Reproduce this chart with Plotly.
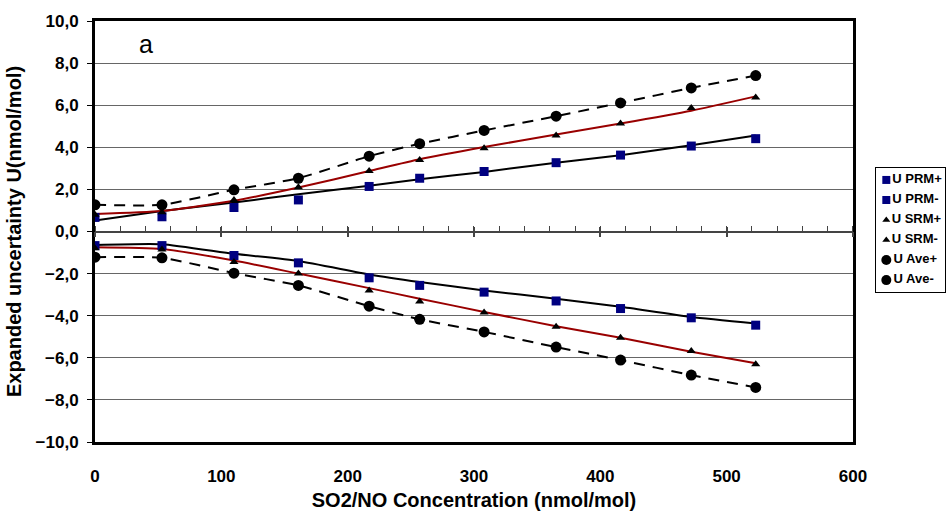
import plotly.graph_objects as go

# SO2/NO concentration levels (nmol/mol)
conc = [0, 53, 110, 161, 217, 257, 308, 365, 416, 472, 523]

# Expanded uncertainty bounds (nmol/mol)
prm_pos = [0.67, 0.70, 1.14, 1.50, 2.14, 2.53, 2.85, 3.27, 3.63, 4.06, 4.41]
prm_neg = [-0.67, -0.67, -1.14, -1.49, -2.20, -2.56, -2.88, -3.30, -3.66, -4.10, -4.45]
srm_pos = [0.80, 0.92, 1.50, 2.10, 2.87, 3.40, 3.95, 4.56, 5.13, 5.87, 6.37]
srm_neg = [-0.80, -0.85, -1.45, -2.00, -2.80, -3.32, -3.85, -4.53, -5.05, -5.68, -6.31]
ave_pos = [1.27, 1.27, 1.98, 2.53, 3.58, 4.17, 4.80, 5.48, 6.11, 6.82, 7.41]
ave_neg = [-1.22, -1.25, -1.98, -2.56, -3.55, -4.17, -4.77, -5.49, -6.11, -6.82, -7.41]

# Smoothed curves drawn along the PRM and SRM bounds
prm_curve_pos = [0.52, 0.97, 1.38, 1.77, 2.17, 2.48, 2.83, 3.27, 3.62, 4.10, 4.56]
prm_curve_neg = [-0.64, -0.60, -1.06, -1.40, -2.04, -2.40, -2.80, -3.19, -3.58, -4.06, -4.37]
srm_curve_pos = [0.83, 0.97, 1.46, 2.09, 2.87, 3.43, 4.01, 4.61, 5.13, 5.74, 6.42]
srm_curve_neg = [-0.75, -0.83, -1.38, -2.00, -2.69, -3.19, -3.82, -4.50, -5.05, -5.71, -6.26]

x_ticks = [0, 100, 200, 300, 400, 500, 600]
y_ticks = [-10, -8, -6, -4, -2, 0, 2, 4, 6, 8, 10]

series_names = ["U PRM+", "U PRM-", "U SRM+", "U SRM-", "U Ave+", "U Ave-"]
series_values = [prm_pos, prm_neg, srm_pos, srm_neg, ave_pos, ave_neg]

NAVY = "#000080"
DARKRED = "#990000"
FONT = "Liberation Sans, Arial, sans-serif"
SMOOTH = 0.55

marker_styles = [
    dict(symbol="square", size=9, color=NAVY),
    dict(symbol="square", size=9, color=NAVY),
    dict(symbol="triangle-up", size=8, color="black"),
    dict(symbol="triangle-up", size=8, color="black"),
    dict(symbol="circle", size=11, color="black"),
    dict(symbol="circle", size=11, color="black"),
]
marker_axes = ["x2", "x2", "x2", "x2", "x3", "x3"]

fig = go.Figure()

# curves
for ys in (prm_curve_pos, prm_curve_neg):
    fig.add_trace(go.Scatter(x=conc, y=ys, mode="lines",
                             line=dict(color="black", width=2, shape="spline", smoothing=SMOOTH),
                             showlegend=False, hoverinfo="skip"))
for ys in (srm_curve_pos, srm_curve_neg):
    fig.add_trace(go.Scatter(x=conc, y=ys, mode="lines",
                             line=dict(color=DARKRED, width=2, shape="spline", smoothing=SMOOTH),
                             showlegend=False, hoverinfo="skip"))
for ys in (ave_pos, ave_neg):
    fig.add_trace(go.Scatter(x=conc, y=ys, mode="lines",
                             line=dict(color="black", width=2, dash="11px,8px", shape="spline", smoothing=SMOOTH),
                             showlegend=False, hoverinfo="skip"))

# measured points
for name, ys, mk, xa in zip(series_names, series_values, marker_styles, marker_axes):
    fig.add_trace(go.Scatter(x=conc, y=ys, mode="markers", name=name, marker=mk,
                             xaxis=xa, yaxis="y", showlegend=False))

# key panel
key_rows = list(range(len(series_names)))
for name, row, mk in zip(series_names, key_rows, marker_styles):
    kmk = dict(mk)
    kmk["size"] = {"square": 8, "triangle-up": 7, "circle": 10}[mk["symbol"]]
    fig.add_trace(go.Scatter(x=[0.15], y=[row], mode="markers+text", text=[name],
                             textposition="middle right",
                             textfont=dict(family=FONT, size=13, color="black", weight="bold"),
                             marker=kmk, xaxis="x4", yaxis="y4", showlegend=False, hoverinfo="skip"))

main_dom = [0, 0.8907]
axis_common = dict(range=[0, 600], domain=main_dom, showgrid=False, zeroline=False)

fig.update_layout(
    width=948, height=513,
    margin=dict(l=95, r=2, t=21, b=71),
    paper_bgcolor="white", plot_bgcolor="white",
    separators=",.",
    font=dict(family=FONT, color="black"),
    xaxis=dict(
        **axis_common,
        tickvals=x_ticks, ticks="", showline=True, linecolor="black", linewidth=3, mirror=True,
        tickfont=dict(size=17, weight="bold"), ticklabelstandoff=17,
        title=dict(text="SO2/NO Concentration (nmol/mol)", font=dict(size=20, weight="bold"), standoff=8),
        automargin=False,
    ),
    xaxis2=dict(
        **axis_common, overlaying="x", anchor="free", position=0.5,
        showline=True, linecolor="#444", linewidth=1.5, showticklabels=False,
        ticks="outside", ticklen=5, tickcolor="#444", tickwidth=1.5, dtick=100, tick0=0,
        minor=dict(ticks="inside", ticklen=5, dtick=20, tick0=0, tickcolor="#444", tickwidth=1.2),
    ),
    xaxis3=dict(
        **axis_common, overlaying="x", anchor="free", position=0.5,
        showline=False, showticklabels=False,
        ticks="inside", ticklen=5, tickcolor="#444", tickwidth=1.5, dtick=100, tick0=0,
    ),
    yaxis=dict(
        range=[-10, 10], tickvals=y_ticks, tickformat=".1f",
        showgrid=True, gridcolor="#666666", gridwidth=1, zeroline=False,
        showline=True, linecolor="black", linewidth=3, mirror=True,
        ticks="outside", ticklen=5, tickcolor="black",
        tickfont=dict(size=17, weight="bold"), ticklabelstandoff=5,
        title=dict(text="Expanded uncertainty U(nmol/mol)", font=dict(size=20, weight="bold"), standoff=9),
        automargin=True,
    ),
    xaxis4=dict(domain=[0.9177, 0.9988], range=[0, 1], anchor="y4",
                showgrid=False, zeroline=False, showticklabels=False, ticks="",
                showline=True, mirror=True, linecolor="black", linewidth=1),
    yaxis4=dict(domain=[0.356, 0.651], range=[5.6, -0.6], anchor="x4",
                showgrid=False, zeroline=False, showticklabels=False, ticks="",
                showline=True, mirror=True, linecolor="black", linewidth=1),
    annotations=[dict(text="a", x=40, y=8.9, xref="x", yref="y", showarrow=False,
                      font=dict(size=25, family=FONT, color="black"))],
    showlegend=False,
)

fig.write_html("out.html")
